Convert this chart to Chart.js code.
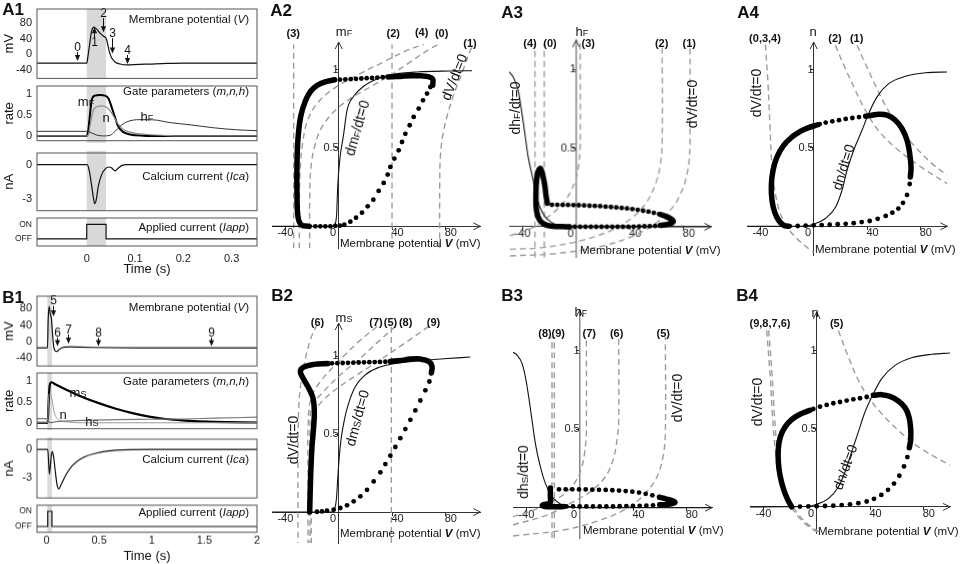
<!DOCTYPE html>
<html lang="en">
<head>
<meta charset="UTF-8">
<title>Calcium spike: traces and phase planes</title>
<script src="https://cdn.jsdelivr.net/npm/chart.js"></script>
<style>
  body { margin: 0; background: #fff; font-family: 'Liberation Sans', Arial, sans-serif; }
  #fig { position: relative; width: 964px; height: 564px; overflow: hidden; background: #fff; }
  .cv { position: absolute; }
  .nt { position: absolute; transform: translate(-50%, -50%); white-space: nowrap; font-size: 11px; line-height: 1; color: #111; z-index: 5; }
  .tag { font-weight: bold; font-size: 17px; }
  .ttl { font-size: 11.5px; }
  .nc { font-weight: bold; font-size: 11px; }
  .cl { font-size: 13px; }
  .rl { font-size: 14px; }
  .ax { font-size: 11.5px; }
  .sb { font-size: 0.7em; position: relative; top: 0.05em; }
</style>
</head>
<body>
<div id="fig"></div>
<script>
// ---------- A1: time courses (fast spike) ----------
const a1TV = [-0.103, 0, 0.001, 0.0055, 0.0103, 0.015, 0.0207, 0.0276, 0.0345, 0.04, 0.0428, 0.0469, 0.0517, 0.0586, 0.069, 0.0828, 0.0966, 0.131, 0.166, 0.2, 0.3525];
const a1V  = [-22.3, -22.3, -17, 21.5, 60, 69.2, 63.8, 53.8, 46.1, 40.8, 29.2, 6.2, -9.2, -19.2, -24.6, -26.9, -26.2, -24.6, -23, -22.3, -22.3];
const a1Tm = [-0.103, 0, 0.003, 0.007, 0.0103, 0.017, 0.0276, 0.038, 0.045, 0.0517, 0.0586, 0.065, 0.076, 0.0897, 0.117, 0.15, 0.3525];
const a1M  = [0, 0, 0.126, 0.545, 0.86, 0.965, 0.979, 0.965, 0.895, 0.685, 0.44, 0.23, 0.09, 0.035, 0.007, 0, 0];
const a1Tn = [-0.103, 0, 0.004, 0.007, 0.0138, 0.0207, 0.031, 0.0414, 0.0517, 0.062, 0.0725, 0.0897, 0.124, 0.172, 0.22, 0.3525];
const a1N  = [0, 0, 0.05, 0.266, 0.615, 0.7, 0.72, 0.685, 0.545, 0.336, 0.182, 0.091, 0.035, 0.007, 0, 0];
const a1Th = [-0.103, 0, 0.004, 0.0103, 0.0207, 0.0345, 0.048, 0.0586, 0.069, 0.0828, 0.11, 0.138, 0.172, 0.214, 0.262, 0.31, 0.3525];
const a1H  = [0.11, 0.11, 0.1, 0.07, 0.02, 0, 0.014, 0.11, 0.23, 0.336, 0.39, 0.385, 0.32, 0.266, 0.196, 0.147, 0.126];
const a1Tca = [-0.103, 0.001, 0.0055, 0.0103, 0.0138, 0.0166, 0.0193, 0.024, 0.031, 0.038, 0.0448, 0.0517, 0.0586, 0.0655, 0.0724, 0.083, 0.3525];
const a1Ca  = [0, 0, -0.58, -1.86, -2.88, -3.4, -3.13, -1.86, -0.84, -0.38, -0.2, -0.28, -0.53, -0.28, -0.08, 0, 0];
const a1Tapp = [-0.103, 0, 0.04, 0.3525];
const a1App  = [0, 1, 0, 0];
const a1Band = [0, 0.04];
const a1ArrowText = ['0', '1', '2', '3', '4'];
const a1ArrowT    = [-0.0193, 0.0159, 0.033, 0.052, 0.083];
const a1ArrowFrom = [6, 43, 92, 41, -1.5];
const a1ArrowTo   = [-17, 69, 56, 2, -24.6];
const a1ArrowLabV = [17.7, 29, 102, 52, 10];

// ---------- B1: time courses (slow spike) ----------
const b1TV = [-0.09, 0.01, 0.0157, 0.025, 0.038, 0.047, 0.057, 0.069, 0.082, 0.1, 0.126, 0.173, 0.236, 0.314, 0.44, 0.817, 2.0];
const b1V  = [-14.7, -14.7, 49.9, 85, 64.5, 57, 20.5, -12.5, -22, -23.5, -17.6, -13.2, -12.5, -13.2, -13.9, -14.7, -14.7];
const b1Tm = [-0.09, 0.012, 0.02, 0.031, 0.047, 0.079, 0.189, 0.346, 0.503, 0.66, 0.817, 0.975, 1.132, 1.289, 1.447, 1.6, 2.0];
const b1M  = [0, 0, 0.48, 0.91, 0.98, 0.94, 0.8, 0.62, 0.47, 0.34, 0.234, 0.149, 0.092, 0.057, 0.035, 0.021, 0.007];
const b1Tn = [-0.09, 0.012, 0.02, 0.038, 0.053, 0.072, 0.094, 0.126, 0.189, 0.346, 2.0];
const b1N  = [0, 0, 0.62, 0.71, 0.55, 0.27, 0.128, 0.057, 0.021, 0, 0];
const b1Th = [-0.09, 0.008, 0.031, 0.094, 0.346, 0.66, 0.975, 1.29, 1.6, 2.0];
const b1H  = [0.1, 0.1, 0.005, 0.028, 0.057, 0.078, 0.085, 0.092, 0.113, 0.135];
const b1Tca = [-0.09, 0.012, 0.022, 0.028, 0.038, 0.047, 0.057, 0.069, 0.085, 0.1, 0.116, 0.14, 0.189, 0.25, 0.346, 0.503, 0.66, 0.975, 2.0];
const b1Ca  = [0, 0, -1.6, -2.6, -1.6, -0.57, -0.25, -0.88, -2.46, -3.72, -4.2, -3.72, -2.62, -1.67, -0.88, -0.32, -0.09, 0, 0];
const b1Tapp = [-0.09, 0.012, 0.052, 2.0];
const b1App  = [0, 1, 0, 0];
const b1Band = [0.008, 0.052];
const b1ArrowText = ['5', '6', '7', '8', '9'];
const b1ArrowT    = [0.063, 0.1, 0.204, 0.494, 1.566];
const b1ArrowFrom = [86.5, 9.5, 17, 9.5, 9.5];
const b1ArrowTo   = [61, -11, -5, -11, -11];
const b1ArrowLabV = [97.5, 20.5, 28, 20.5, 20.5];

// tick values / labels
const vTicks = [-40, 0, 40, 80];
const gateTicks = [0, 0.5, 1];
const caTicks = [-3, 0];
const appTicks = [0, 1];
const appTickText = ['OFF', 'ON'];
const a1TimeTicks = [0, 0.1, 0.2, 0.3];
const b1TimeTicks = [0, 0.5, 1, 1.5, 2];
const phaseVTicks = [-40, 0, 40, 80];
const phaseYTicks = [0.5, 1];

// ---------- A2: mF vs V ----------
const a2NullV = [-50, -5, -2.5, -1.5, -0.75, 0.75, 3.75, 6.25, 11.25, 18.75, 28.75, 41.25, 58.75, 83.75, 100];
const a2NullM = [0, 0, 0.02, 0.08, 0.25, 0.42, 0.59, 0.74, 0.83, 0.894, 0.94, 0.97, 0.985, 0.991, 0.993];
const a2RiseV = [-17.5, -13.75, -10, -6.25, -2.5, 1, 4.25, 8.75, 13, 17.5, 21.75, 26, 30, 33.75, 36.75, 38.75, 41.75, 45, 47.5, 50, 53.25, 56.25, 60, 63.25, 66.25, 68.75];
const a2RiseM = [0, 0, 0, 0, 0.003, 0.005, 0.01, 0.03, 0.055, 0.087, 0.128, 0.17, 0.226, 0.277, 0.33, 0.379, 0.432, 0.485, 0.538, 0.59, 0.645, 0.698, 0.751, 0.804, 0.847, 0.889];
const a2TopV = [70.5, 70.5, 67, 62, 55, 48, 41, 37];
const a2TopM = [0.9, 0.94, 0.955, 0.96, 0.96, 0.958, 0.955, 0.953];
const a2FallV = [33, 29, 25, 21, 17, 13, 9, 5, 1];
const a2FallM = [0.951, 0.949, 0.947, 0.945, 0.943, 0.941, 0.939, 0.937, 0.936];
const a2LeftV = [-3, -10, -16, -21, -25, -28.5, -30.5, -31.25, -31.25, -30.5, -28, -22];
const a2LeftM = [0.935, 0.922, 0.9, 0.862, 0.8, 0.7, 0.56, 0.4, 0.2, 0.06, 0.01, 0];
const a2N3V = [-33.75, -33.75]; const a2N3M = [-0.142, 1.16];
const a2N2V = [40, 40];         const a2N2M = [-0.142, 1.16];
const a2N4V = [-29.5, -29.5, -28.75, -26.75, -23.25, -16.25, -3.75, 13.75, 33.75, 51.25, 63.75];
const a2N4M = [-0.142, 0.166, 0.379, 0.549, 0.677, 0.783, 0.879, 0.964, 1.049, 1.123, 1.16];
const a2N0V = [-21.75, -21.75, -20.75, -17.5, -12.5, -3.75, 8.75, 23.75, 38.75, 53.75, 68.75, 75];
const a2N0M = [-0.142, 0.166, 0.379, 0.528, 0.634, 0.73, 0.815, 0.889, 0.964, 1.049, 1.134, 1.16];
const a2N1V = [75.75, 75.75, 76.25, 78.25, 82.5, 87.5, 93.25, 98.75, 101.25];
const a2N1M = [-0.142, 0.251, 0.443, 0.591, 0.74, 0.868, 0.996, 1.123, 1.16];

// ---------- A3: hF vs V ----------
const a3NullV = [-50, -47, -43.25, -40.75, -38.25, -35.75, -32.5, -29.5, -24.5, -18.25, -9.5, 0.5, 101];
const a3NullH = [0.985, 0.953, 0.868, 0.74, 0.59, 0.443, 0.315, 0.187, 0.08, 0.028, 0.004, 0, 0];
const a3UpV = [-18, -14, -10, -6, -2, 2, 6, 10, 14, 18, 22, 26, 30, 34, 38, 42, 46, 50, 54, 58, 62];
const a3UpH = [0.14, 0.14, 0.139, 0.139, 0.138, 0.137, 0.136, 0.134, 0.133, 0.131, 0.128, 0.126, 0.123, 0.12, 0.117, 0.113, 0.108, 0.102, 0.096, 0.089, 0.081];
const a3TipV = [63, 67, 70.5, 72.5, 71.5, 68, 63];
const a3TipH = [0.078, 0.066, 0.052, 0.038, 0.025, 0.015, 0.009];
const a3LowV = [59, 55, 51, 47, 43, 39, 35, 31, 27, 23, 19, 15, 11, 7, 3, -1, -5];
const a3LowH = [0.006, 0.004, 0.003, 0.002, 0.001, 0, 0, 0, 0, 0, 0, 0, 0, 0, 0, 0, 0];
const a3LoopV = [-5, -10, -15, -22, -27, -29.5, -30, -29.5, -28, -26.5, -25, -23.5, -22.5, -21.5];
const a3LoopH = [0, 0.001, 0.002, 0.01, 0.04, 0.1, 0.2, 0.3, 0.36, 0.37, 0.33, 0.27, 0.2, 0.15];
const a3N4V = [-30.75, -30.75]; const a3N4H = [-0.196, 1.166];
const a3N0V = [-23.75, -23.75]; const a3N0H = [-0.196, 1.166];
const a3N3V = [-49.5, -32, -18.25, -8.25, -1.5, 1.75, 3, 3];
const a3N3H = [-0.057, -0.004, 0.081, 0.166, 0.272, 0.379, 0.506, 1.166];
const a3N2V = [-49.5, -24.5, 3, 25.5, 40.5, 51.75, 59.25, 63, 64.25, 64.25];
const a3N2H = [-0.143, -0.132, -0.089, -0.026, 0.049, 0.145, 0.272, 0.4, 0.549, 1.166];
const a3N1V = [-49.5, -14.5, 20.5, 45.5, 61.75, 73, 80, 83.75, 85, 85];
const a3N1H = [-0.185, -0.17, -0.121, -0.047, 0.038, 0.134, 0.251, 0.379, 0.528, 1.166];

// ---------- A4: n vs V ----------
const a4NullV = [-50, -10, -3.75, 0, 8.75, 16.25, 21.25, 25, 30, 36.25, 41.25, 47.5, 56.25, 68.75, 83.75, 100];
const a4NullN = [0, 0, 0.005, 0.013, 0.05, 0.12, 0.23, 0.357, 0.485, 0.613, 0.72, 0.826, 0.91, 0.957, 0.98, 0.985];
const a4LowV = [-18, -12, -6, 0, 6, 12, 18, 24, 30, 36, 42, 48, 54, 59, 63.5, 67, 70, 72];
const a4LowN = [0.001, 0.002, 0.004, 0.006, 0.008, 0.01, 0.013, 0.016, 0.02, 0.027, 0.034, 0.048, 0.066, 0.087, 0.113, 0.15, 0.2, 0.27];
const a4RightV = [72.5, 73, 72, 70, 66.25, 61.25, 55, 48.75, 43.75, 39];
const a4RightN = [0.315, 0.379, 0.464, 0.549, 0.623, 0.677, 0.709, 0.715, 0.709, 0.702];
const a4TopV = [34, 29, 24, 19, 14, 9, 4.5];
const a4TopN = [0.697, 0.691, 0.685, 0.677, 0.67, 0.662, 0.652];
const a4LeftV = [3, -3.75, -10, -16.25, -22.5, -27.5, -30.5, -31.75, -31.25, -29.25, -26.25, -22.5, -19];
const a4LeftN = [0.648, 0.63, 0.606, 0.57, 0.517, 0.443, 0.357, 0.262, 0.166, 0.091, 0.038, 0.006, 0];
const a4N034V = [-36.25, -34.25, -32.75, -31.25, -28.75, -25, -20, -12.5, -3.75, 0];
const a4N034N = [1.16, 0.91, 0.634, 0.379, 0.209, 0.081, -0.004, -0.079, -0.143, -0.164];
const a4N2V = [16.25, 23.75, 31.25, 38.75, 48.75, 61.25, 78.75, 100];
const a4N2N = [1.155, 1.006, 0.868, 0.74, 0.609, 0.502, 0.389, 0.272];
const a4N1V = [32.5, 38.75, 46.25, 53.75, 63.75, 76.25, 88.75, 100];
const a4N1N = [1.155, 1.038, 0.9, 0.772, 0.634, 0.506, 0.4, 0.326];

// ---------- B2: mS vs V ----------
const b2NullV = [-50, -5, -3.25, -1.75, -0.75, 0.25, 1.75, 4.25, 7.5, 12.5, 20, 28.75, 41.25, 58.75, 78.75, 98.75];
const b2NullM = [0, 0, 0.015, 0.079, 0.208, 0.336, 0.465, 0.593, 0.7, 0.807, 0.882, 0.925, 0.953, 0.972, 0.985, 0.996];
const b2RiseV = [-16.25, -12.5, -8.75, -3.75, 1.25, 6.25, 11.25, 16.25, 21.25, 26.25, 31.25, 35, 38.75, 42.5, 46.25, 50, 53.75, 57.5, 61.25, 65, 68];
const b2RiseM = [0.002, 0.004, 0.009, 0.015, 0.026, 0.043, 0.069, 0.101, 0.143, 0.197, 0.255, 0.308, 0.362, 0.418, 0.475, 0.533, 0.593, 0.653, 0.717, 0.782, 0.839];
const b2TopV = [69.5, 70, 67.5, 61.25, 53.75, 46.25, 38.75];
const b2TopM = [0.893, 0.936, 0.968, 0.983, 0.983, 0.974, 0.968];
const b2FallV = [35, 31, 27, 23, 19, 15, 11, 7, 3, -1, -5];
const b2FallM = [0.966, 0.965, 0.964, 0.963, 0.962, 0.961, 0.96, 0.959, 0.958, 0.957, 0.956];
const b2LeftV = [-8, -18.75, -26.25, -28.75, -26.75, -22.5, -19.25, -18.25, -18.75, -20, -20.75, -21.25, -21.75];
const b2LeftM = [0.955, 0.949, 0.931, 0.904, 0.861, 0.797, 0.732, 0.647, 0.55, 0.422, 0.293, 0.165, 0];
const b2N6V = [-16.2, -21.2, -26.25, -28.7, -30, -30.5, -30.5];
const b2N6M = [1.205, 1.109, 0.936, 0.807, 0.657, 0.4, -0.199];
const b2N7V = [28.75, 13.8, 0, -13.7, -21, -23, -23, -23];
const b2N7M = [1.193, 1.086, 0.968, 0.839, 0.722, 0.529, 0.272, -0.199];
const b2N5V = [39.5, 39.5]; const b2N5M = [-0.199, 1.193];
const b2N8V = [42.5, 31.25, 16.25, 1.25, -11.25, -20, -21.5, -21.5];
const b2N8M = [1.193, 1.107, 0.99, 0.882, 0.775, 0.679, 0.529, -0.199];
const b2N9V = [67.5, 51.3, 31.25, 13.8, -2.5, -13.7, -19.5, -20.5, -20.5];
const b2N9M = [1.193, 1.096, 0.979, 0.882, 0.786, 0.7, 0.614, 0.465, -0.199];

// ---------- B3: hS vs V ----------
const b3NullV = [-50, -47, -43.25, -40.75, -38.25, -35.75, -33.25, -29.5, -25.75, -20.75, -14.5, -7, 0, 99];
const b3NullH = [0.99, 0.972, 0.919, 0.834, 0.707, 0.558, 0.41, 0.261, 0.155, 0.07, 0.023, 0.006, 0, 0];
const b3UpV = [-15.5, -10.5, -5.5, -0.5, 4.5, 9.5, 14.5, 19.5, 24.5, 29.5, 34.5, 39.5, 44.5, 49.5, 54.5, 59.5];
const b3UpH = [0.117, 0.117, 0.117, 0.116, 0.116, 0.115, 0.114, 0.113, 0.111, 0.109, 0.106, 0.102, 0.096, 0.088, 0.079, 0.069];
const b3TipV = [60, 65, 69.5, 71.5, 69.5, 65, 60];
const b3TipH = [0.066, 0.055, 0.044, 0.034, 0.026, 0.021, 0.018];
const b3LowV = [55, 50, 45, 40, 35, 30, 25, 20, 15, 10, 5, 0, -5, -10];
const b3LowH = [0.015, 0.013, 0.012, 0.011, 0.01, 0.009, 0.008, 0.008, 0.008, 0.008, 0.008, 0.008, 0.008, 0.008];
const b3LeftV = [-12, -17, -22, -26, -28, -27, -24, -22, -22, -22, -22];
const b3LeftH = [0.007, 0.006, 0.006, 0.007, 0.012, 0.02, 0.025, 0.035, 0.07, 0.1, 0.125];
const b3N8V = [-20.75, -20.75]; const b3N8H = [-0.195, 1.089];
const b3N9V = [-19, -19];       const b3N9H = [-0.195, 1.089];
const b3N7V = [-50, -34.5, -19.5, -9.5, -2.5, 2, 4.25, 5, 5];
const b3N7H = [-0.057, -0.015, 0.045, 0.102, 0.176, 0.272, 0.389, 0.495, 1.089];
const b3N6V = [-50, -24.5, -7, 8, 19.25, 25, 28, 29.25, 29.25];
const b3N6H = [-0.11, -0.047, 0.028, 0.102, 0.197, 0.304, 0.431, 0.558, 1.089];
const b3N5V = [-50, -12, 15.5, 35.5, 49.25, 58, 62.5, 64.25, 64.25];
const b3N5H = [-0.18, -0.142, -0.079, -0.004, 0.091, 0.197, 0.325, 0.473, 1.089];

// ---------- B4: n vs V ----------
const b4NullV = [-50, -6.25, 0, 8.75, 16.25, 21.25, 26.25, 31.25, 36.25, 42.5, 48.75, 58.75, 71.25, 86.25, 100];
const b4NullN = [0, 0.004, 0.017, 0.053, 0.128, 0.224, 0.353, 0.481, 0.609, 0.726, 0.823, 0.908, 0.957, 0.979, 0.987];
const b4LowV = [-12.5, -6.25, 0, 6.25, 12.5, 18.75, 25, 31.25, 37.5, 43, 48.5, 53.5, 58, 62, 65.5, 68];
const b4LowN = [0.002, 0.003, 0.004, 0.006, 0.008, 0.012, 0.017, 0.024, 0.035, 0.052, 0.077, 0.11, 0.15, 0.2, 0.26, 0.32];
const b4RightV = [69.5, 70.5, 70.5, 69.25, 66.25, 61.25, 55, 48.75, 42.5];
const b4RightN = [0.38, 0.43, 0.502, 0.577, 0.637, 0.679, 0.709, 0.72, 0.716];
const b4TopV = [37.5, 32.5, 27.5, 22.5, 17.5, 12.5, 7.5, 2.5, -2.5];
const b4TopN = [0.705, 0.697, 0.69, 0.682, 0.673, 0.665, 0.654, 0.643, 0.628];
const b4LeftV = [-5, -12.5, -18.75, -23.75, -27.25, -28.75, -28.75, -27.5, -25, -21.75, -18.75];
const b4LeftN = [0.62, 0.594, 0.56, 0.513, 0.449, 0.374, 0.288, 0.203, 0.118, 0.047, 0];
const b4NaV = [-37.5, -35, -33.25, -31.25, -28.25, -23.75, -17.5, -8.75, 0];
const b4NbV = [-36, -33.5, -31.75, -29.75, -26.75, -22.25, -16, -7.25, 1.5];
const b4NabN = [1.132, 0.855, 0.598, 0.385, 0.214, 0.085, -0.021, -0.107, -0.16];
const b4N5V = [16.25, 23.75, 31.25, 38.75, 48.75, 61.25, 76.25, 100];
const b4N5N = [1.132, 0.962, 0.812, 0.705, 0.598, 0.491, 0.385, 0.267];

// ---------- helpers ----------
Chart.defaults.font.family = "'Liberation Sans', Arial, sans-serif";
Chart.defaults.font.size = 11;
Chart.defaults.color = '#222';
const fig = document.getElementById('fig');

function xy(xs, ys) { return xs.map((v, i) => ({ x: v, y: ys[i] })); }

function mount(left, top, width, height) {
  const d = document.createElement('div');
  d.className = 'cv';
  d.style.left = left + 'px';
  d.style.top = top + 'px';
  d.style.width = width + 'px';
  d.style.height = height + 'px';
  const c = document.createElement('canvas');
  d.appendChild(c);
  fig.appendChild(d);
  return c;
}

function trace(xs, ys, color, width, extra) {
  return Object.assign({ data: xy(xs, ys), showLine: true, borderColor: color, borderWidth: width,
    pointRadius: 0, cubicInterpolationMode: 'monotone' }, extra || {});
}
const dash = (xs, ys) => ({ data: xy(xs, ys), showLine: true, borderColor: '#9c9c9c', borderWidth: 1.4,
  borderDash: [6, 4], pointRadius: 0, tension: 0.35, order: 4 });
const nullc = (xs, ys) => ({ data: xy(xs, ys), showLine: true, borderColor: '#111', borderWidth: 1.1,
  pointRadius: 0, cubicInterpolationMode: 'monotone', order: 3 });
const thick = (xs, ys) => ({ data: xy(xs, ys), showLine: true, borderColor: '#000', borderWidth: 5.5,
  pointRadius: 0, tension: 0.4, borderCapStyle: 'round', borderJoinStyle: 'round', order: 2 });
const dots = (xs, ys) => ({ data: xy(xs, ys), showLine: false, pointRadius: 2.4, pointBackgroundColor: '#000',
  pointBorderWidth: 0, order: 1 });

const boxPlugin = {
  id: 'box',
  afterDraw(chart) {
    const a = chart.chartArea, ctx = chart.ctx;
    ctx.save();
    ctx.strokeStyle = '#555';
    ctx.lineWidth = 1;
    ctx.strokeRect(a.left, a.top, a.right - a.left, a.bottom - a.top);
    ctx.restore();
  }
};

function bandPlugin(range, ext) {
  return {
    id: 'band',
    beforeDatasetsDraw(chart) {
      const a = chart.chartArea, x = chart.scales.x, ctx = chart.ctx;
      const x0 = x.getPixelForValue(range[0]), x1 = x.getPixelForValue(range[1]);
      ctx.save();
      ctx.fillStyle = '#d9d9d9';
      ctx.fillRect(x0, a.top - ext[0], x1 - x0, a.bottom - a.top + ext[0] + ext[1]);
      ctx.restore();
    }
  };
}

function arrowPlugin(text, ts, from, to, labV) {
  return {
    id: 'arrows',
    afterDatasetsDraw(chart) {
      const ctx = chart.ctx, x = chart.scales.x, y = chart.scales.y;
      ctx.save();
      ctx.strokeStyle = '#111';
      ctx.fillStyle = '#111';
      ctx.lineWidth = 1;
      ctx.font = "12px 'Liberation Sans', Arial, sans-serif";
      ctx.textAlign = 'center';
      ctx.textBaseline = 'middle';
      ts.forEach((t, i) => {
        const px = Math.round(x.getPixelForValue(t)) + 0.5;
        const y0 = y.getPixelForValue(from[i]), y1 = y.getPixelForValue(to[i]);
        const dir = Math.sign(y1 - y0);
        ctx.beginPath();
        ctx.moveTo(px, y0);
        ctx.lineTo(px, y1 - dir * 4);
        ctx.stroke();
        ctx.beginPath();
        ctx.moveTo(px, y1);
        ctx.lineTo(px - 2.6, y1 - dir * 6);
        ctx.lineTo(px + 2.6, y1 - dir * 6);
        ctx.closePath();
        ctx.fill();
        ctx.fillText(text[i], px, y.getPixelForValue(labV[i]));
      });
      ctx.restore();
    }
  };
}

const headsPlugin = {
  id: 'heads',
  afterDraw(chart) {
    const ctx = chart.ctx, a = chart.chartArea;
    const x0 = chart.scales.x.getPixelForValue(0), y0 = chart.scales.y.getPixelForValue(0);
    ctx.save();
    ctx.strokeStyle = '#333';
    ctx.lineWidth = 1;
    ctx.beginPath();
    ctx.moveTo(a.right - 7, y0 - 3.5); ctx.lineTo(a.right, y0); ctx.lineTo(a.right - 7, y0 + 3.5);
    ctx.moveTo(x0 - 3.5, a.top + 7); ctx.lineTo(x0, a.top); ctx.lineTo(x0 + 3.5, a.top + 7);
    ctx.stroke();
    ctx.restore();
  }
};

// time-course subplot: chart area from x=37 to x=257
function timePanel(o) {
  const padTop = 14, padRight = 6;
  const xH = o.xTicks ? o.xH : 0;
  const padBottom = o.xTicks ? 0 : 4;
  const cv = mount(0, o.top - padTop, 257 + padRight, o.bottom - o.top + padTop + padBottom + xH);
  const plugins = [boxPlugin, bandPlugin(o.band, o.bandExt || [0, 0])];
  if (o.arrows) plugins.push(o.arrows);
  new Chart(cv, {
    type: 'scatter',
    data: { datasets: o.datasets },
    options: {
      responsive: true, maintainAspectRatio: false, animation: false, events: [],
      layout: { padding: { left: 0, top: padTop, right: padRight, bottom: padBottom } },
      plugins: { legend: { display: false }, tooltip: { enabled: false } },
      scales: {
        x: {
          type: 'linear', min: o.xMin, max: o.xMax, display: !!o.xTicks,
          grid: { display: false, drawTicks: false }, border: { display: false },
          afterBuildTicks: s => { if (o.xTicks) s.ticks = o.xTicks.map(v => ({ value: v })); },
          afterFit: s => { if (o.xTicks) s.height = xH; },
          ticks: { padding: o.tickPad || 4, maxRotation: 0, autoSkip: false, font: { size: 11 }, callback: v => String(v) },
          title: { display: !!o.xTicks, text: 'Time (s)', font: { size: 13 }, padding: 0, color: '#111' }
        },
        y: {
          type: 'linear', min: o.yMin, max: o.yMax,
          grid: { display: false, drawTicks: false }, border: { display: false },
          afterBuildTicks: s => { s.ticks = o.yTicks.map(v => ({ value: v })); },
          afterFit: s => { s.width = 37; },
          ticks: { padding: 5, font: { size: o.yTickSize || 11 },
            callback: v => o.yTickText ? o.yTickText[o.yTicks.indexOf(v)] : String(v) },
          title: { display: !!o.yTitle, text: o.yTitle || '', font: { size: 13 }, padding: { top: 2, bottom: 0 }, color: '#111' }
        }
      }
    },
    plugins
  });
}

// phase-plane panel: axes cross at (0,0)
function phasePanel(o) {
  const pad = { l: 34, t: 40, r: 18, b: 34 };
  const a = o.area;
  const cv = mount(a.l - pad.l, a.t - pad.t, a.r - a.l + pad.l + pad.r, a.b - a.t + pad.t + pad.b);
  new Chart(cv, {
    type: 'scatter',
    data: { datasets: o.datasets },
    options: {
      responsive: true, maintainAspectRatio: false, animation: false, events: [],
      layout: { padding: { left: pad.l, top: pad.t, right: pad.r, bottom: pad.b } },
      plugins: { legend: { display: false }, tooltip: { enabled: false } },
      scales: {
        x: {
          type: 'linear', min: o.xMin, max: o.xMax, position: { y: 0 },
          afterBuildTicks: s => { s.ticks = phaseVTicks.map(v => ({ value: v })); },
          afterFit: s => { s.height = 0; },
          grid: { display: true, drawOnChartArea: false, drawTicks: true, tickLength: 3, color: '#333' },
          border: { display: true, color: '#333', width: 1 },
          ticks: { padding: -2.5, maxRotation: 0, autoSkip: false, color: '#222',
            callback: v => v === 0 ? '0\u2003' : (v > 0 ? '\u2003' + v : String(v)) }
        },
        y: {
          type: 'linear', min: o.yMin, max: o.yMax, position: { x: 0 },
          afterBuildTicks: s => { s.ticks = phaseYTicks.map(v => ({ value: v })); },
          afterFit: s => { s.width = 0; },
          grid: { display: true, drawOnChartArea: false, drawTicks: true, tickLength: 3, color: '#333' },
          border: { display: true, color: o.yAxisColor || '#333', width: o.yAxisColor ? 1.5 : 1 },
          ticks: { padding: 5, color: '#222', callback: v => String(v) }
        }
      }
    },
    plugins: [headsPlugin]
  });
}

// ---------- A1 ----------
timePanel({ top: 9, bottom: 86, xMin: -0.103, xMax: 0.3525, yMin: -61, yMax: 115, yTicks: vTicks, yTitle: 'mV',
  band: a1Band, bandExt: [0, 0],
  datasets: [trace(a1TV, a1V, '#111', 1.2)],
  arrows: arrowPlugin(a1ArrowText, a1ArrowT, a1ArrowFrom, a1ArrowTo, a1ArrowLabV) });
timePanel({ top: 86, bottom: 148.3, xMin: -0.103, xMax: 0.3525, yMin: -0.114, yMax: 1.195, yTicks: gateTicks, yTitle: 'rate',
  band: a1Band, bandExt: [0, 2.2],
  datasets: [trace(a1Th, a1H, '#333', 1), trace(a1Tn, a1N, '#8a8a8a', 1.2), trace(a1Tm, a1M, '#000', 2)] });
timePanel({ top: 152.7, bottom: 218, xMin: -0.103, xMax: 0.3525, yMin: -4.0, yMax: 1.02, yTicks: caTicks, yTitle: 'nA',
  band: a1Band, bandExt: [2.2, 0],
  datasets: [trace(a1Tca, a1Ca, '#111', 1.2)] });
timePanel({ top: 218, bottom: 246, xMin: -0.103, xMax: 0.3525, yMin: -0.48, yMax: 1.43, yTicks: appTicks, yTickText: appTickText,
  yTickSize: 8.5, band: a1Band, xTicks: a1TimeTicks, xH: 31, tickPad: 6,
  datasets: [trace(a1Tapp, a1App, '#111', 1.2, { stepped: true, cubicInterpolationMode: 'default' })] });

// ---------- B1 ----------
timePanel({ top: 296, bottom: 372.7, xMin: -0.09, xMax: 2.0, yMin: -58.7, yMax: 109.9, yTicks: vTicks, yTitle: 'mV',
  band: b1Band,
  datasets: [trace(b1TV, b1V, '#111', 1.2)],
  arrows: arrowPlugin(b1ArrowText, b1ArrowT, b1ArrowFrom, b1ArrowTo, b1ArrowLabV) });
timePanel({ top: 372.7, bottom: 436, xMin: -0.09, xMax: 2.0, yMin: -0.143, yMax: 1.204, yTicks: gateTicks, yTitle: 'rate',
  band: b1Band, bandExt: [0, 1.7],
  datasets: [trace(b1Th, b1H, '#777', 1.2), trace(b1Tn, b1N, '#9a9a9a', 1), trace(b1Tm, b1M, '#000', 2.2)] });
timePanel({ top: 439.3, bottom: 505, xMin: -0.09, xMax: 2.0, yMin: -5.157, yMax: 1.083, yTicks: caTicks, yTitle: 'nA',
  band: b1Band, bandExt: [1.7, 0],
  datasets: [trace(b1Tca, b1Ca, '#111', 1.2)] });
timePanel({ top: 505, bottom: 531.7, xMin: -0.09, xMax: 2.0, yMin: -0.38, yMax: 1.4, yTicks: appTicks, yTickText: appTickText,
  yTickSize: 8.5, band: b1Band, xTicks: b1TimeTicks, xH: 32, tickPad: 2,
  datasets: [trace(b1Tapp, b1App, '#111', 1.2, { stepped: true, cubicInterpolationMode: 'default' })] });

// ---------- phase planes ----------
phasePanel({ area: { l: 271.7, t: 41.7, r: 480, b: 248.3 }, xMin: -50, xMax: 106.2, yMin: -0.142, yMax: 1.176,
  datasets: [dash(a2N3V, a2N3M), dash(a2N2V, a2N2M), dash(a2N4V, a2N4M), dash(a2N0V, a2N0M), dash(a2N1V, a2N1M),
    nullc(a2NullV, a2NullM), thick(a2TopV, a2TopM), thick(a2LeftV, a2LeftM), dots(a2RiseV, a2RiseM), dots(a2FallV, a2FallM)] });
phasePanel({ area: { l: 509.3, t: 40, r: 710.7, b: 256.7 }, xMin: -50, xMax: 101, yMin: -0.196, yMax: 1.187, yAxisColor: '#888',
  datasets: [dash(a3N4V, a3N4H), dash(a3N0V, a3N0H), dash(a3N3V, a3N3H), dash(a3N2V, a3N2H), dash(a3N1V, a3N1H),
    nullc(a3NullV, a3NullH), thick(a3TipV, a3TipH), thick(a3LoopV, a3LoopH), dots(a3UpV, a3UpH), dots(a3LowV, a3LowH)] });
phasePanel({ area: { l: 746.7, t: 41.7, r: 947, b: 255 }, xMin: -50, xMax: 100.2, yMin: -0.185, yMax: 1.176,
  datasets: [dash(a4N034V, a4N034N), dash(a4N2V, a4N2N), dash(a4N1V, a4N1N),
    nullc(a4NullV, a4NullN), thick(a4RightV, a4RightN), thick(a4LeftV, a4LeftN), dots(a4LowV, a4LowN), dots(a4TopV, a4TopN)] });
phasePanel({ area: { l: 271.7, t: 323.3, r: 480, b: 543.3 }, xMin: -50, xMax: 106.2, yMin: -0.199, yMax: 1.215,
  datasets: [dash(b2N6V, b2N6M), dash(b2N7V, b2N7M), dash(b2N5V, b2N5M), dash(b2N8V, b2N8M), dash(b2N9V, b2N9M),
    nullc(b2NullV, b2NullM), thick(b2TopV, b2TopM), thick(b2LeftV, b2LeftM), dots(b2RiseV, b2RiseM), dots(b2FallV, b2FallM)] });
phasePanel({ area: { l: 512.6, t: 310, r: 711.7, b: 538.3 }, xMin: -50, xMax: 99.3, yMin: -0.195, yMax: 1.259, yAxisColor: '#888',
  datasets: [dash(b3N8V, b3N8H), dash(b3N9V, b3N9H), dash(b3N7V, b3N7H), dash(b3N6V, b3N6H), dash(b3N5V, b3N5H),
    nullc(b3NullV, b3NullH), thick(b3TipV, b3TipH), thick(b3LeftV, b3LeftH), dots(b3UpV, b3UpH), dots(b3LowV, b3LowH)] });
phasePanel({ area: { l: 750, t: 311.7, r: 950, b: 533.3 }, xMin: -50, xMax: 100, yMin: -0.171, yMax: 1.25,
  datasets: [dash(b4NaV, b4NabN), dash(b4NbV, b4NabN), dash(b4N5V, b4N5N),
    nullc(b4NullV, b4NullN), thick(b4RightV, b4RightN), thick(b4LeftV, b4LeftN), dots(b4LowV, b4LowN), dots(b4TopV, b4TopN)] });

// ---------- text ----------
function note(html, x, y, cls, anchor, rot) {
  const d = document.createElement('div');
  d.className = 'nt ' + (cls || '');
  d.innerHTML = html;
  d.style.left = x + 'px';
  d.style.top = y + 'px';
  const tx = anchor === 'right' ? '-100%' : anchor === 'left' ? '0' : '-50%';
  d.style.transform = 'translate(' + tx + ', -50%)' + (rot ? ' rotate(' + rot + 'deg)' : '');
  fig.appendChild(d);
}
const sub = s => '<span class="sb">' + s + '</span>';

[['A1', 13, 9], ['A2', 281, 10], ['A3', 512, 12], ['A4', 748, 12],
 ['B1', 13, 297], ['B2', 282, 295], ['B3', 512, 295], ['B4', 747, 295]].forEach(t => note(t[0], t[1], t[2], 'tag'));

const mp = 'Membrane potential (<i>V</i>)', gp = 'Gate parameters (<i>m,n,h</i>)';
const cc = 'Calcium current (<i>Ica</i>)', ac = 'Applied current (<i>Iapp</i>)';
[[mp, 20], [gp, 92], [cc, 177], [ac, 228], [mp, 307.5], [gp, 382], [cc, 460], [ac, 513]]
  .forEach(t => note(t[0], 249, t[1], 'ttl', 'right'));

note('m' + sub('F'), 86, 102, 'cl'); note('n', 106, 117, 'cl'); note('h' + sub('F'), 147, 117, 'cl');
note('m' + sub('S'), 78, 393, 'cl'); note('n', 63, 414, 'cl'); note('h' + sub('S'), 92, 422, 'cl');

note('m' + sub('F'), 344, 32, 'cl'); note('h' + sub('F'), 582, 32, 'cl'); note('n', 813, 31, 'cl');
note('m' + sub('S'), 344, 318, 'cl'); note('h' + sub('F'), 581, 312, 'cl'); note('n', 815, 312, 'cl');

const mpV = 'Membrane potential <b><i>V</i></b> (mV)';
[[340, 244], [580, 251], [815, 250], [340, 534], [583, 531], [818, 532]].forEach(p => note(mpV, p[0], p[1], 'ax', 'left'));

[['(3)', 293.3, 33.3], ['(2)', 393.3, 33.3], ['(4)', 421.7, 32.3], ['(0)', 441.7, 33.3], ['(1)', 470, 43],
 ['(4)', 530, 43.3], ['(0)', 550, 43.3], ['(3)', 588.3, 43.3], ['(2)', 661.7, 43.3], ['(1)', 689.3, 43.3],
 ['(0,3,4)', 765, 38.3], ['(2)', 835, 38.3], ['(1)', 856.7, 38.3],
 ['(6)', 317.5, 321.7], ['(7)', 376, 321.7], ['(5)', 390.5, 321.7], ['(8)', 405.7, 321.7], ['(9)', 433.5, 321.7],
 ['(8)', 545, 333.3], ['(9)', 558.3, 333.3], ['(7)', 589.3, 333.3], ['(6)', 616.7, 333.3], ['(5)', 663.3, 333.3],
 ['(9,8,7,6)', 770, 323.3], ['(5)', 836.7, 323.3]].forEach(t => note(t[0], t[1], t[2], 'nc'));

note('dm' + sub('F') + '/dt=0', 356.7, 128.3, 'rl', 'center', -74);
note('dV/dt=0', 454, 76.7, 'rl', 'center', -68);
note('dh' + sub('F') + '/dt=0', 515, 108, 'rl', 'center', -90);
note('dV/dt=0', 692.3, 104, 'rl', 'center', -90);
note('dV/dt=0', 755.7, 93.3, 'rl', 'center', -90);
note('dn/dt=0', 843.3, 166.7, 'rl', 'center', -73);
note('dV/dt=0', 293.3, 440, 'rl', 'center', -90);
note('dm' + sub('S') + '/dt=0', 357.3, 418.3, 'rl', 'center', -75);
note('dh' + sub('S') + '/dt=0', 523.3, 471.7, 'rl', 'center', -90);
note('dV/dt=0', 676.7, 398.3, 'rl', 'center', -90);
note('dV/dt=0', 757.3, 402.3, 'rl', 'center', -90);
note('dn/dt=0', 845, 466.7, 'rl', 'center', -70);
</script>
</body>
</html>
